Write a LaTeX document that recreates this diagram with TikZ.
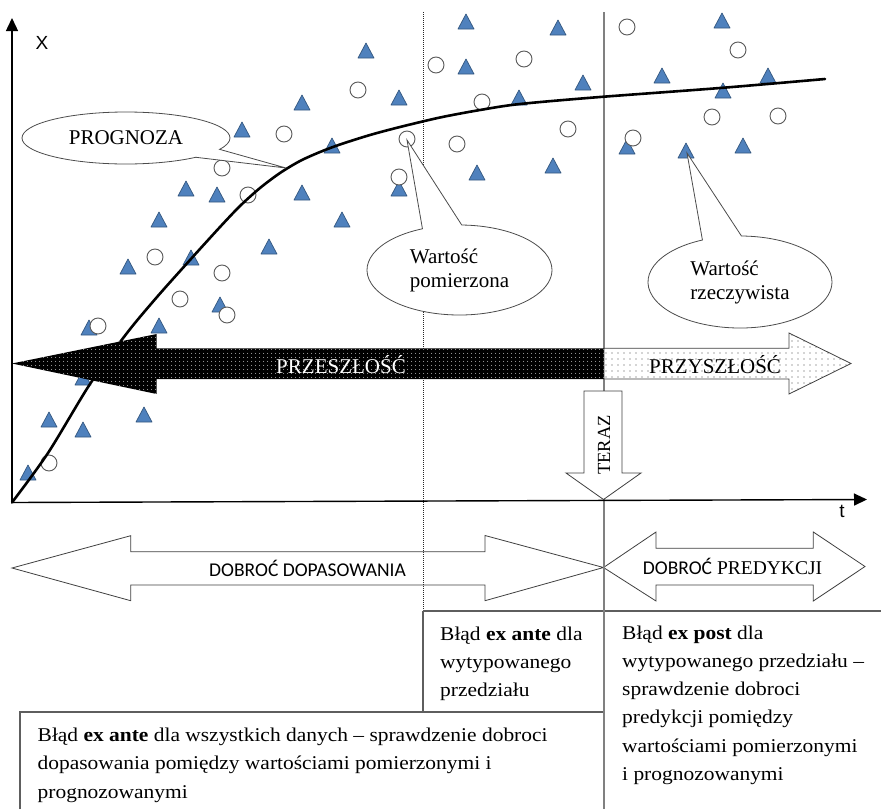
\documentclass[tikz,border=0pt]{standalone}
\usepackage{fontspec}
\setmainfont{Liberation Serif}
\newfontfamily\boxfont{Liberation Serif}[FakeStretch=1.1]
\newfontfamily\arialf{Liberation Sans}
\newfontfamily\calibf{Carlito}
\usetikzlibrary{arrows.meta,shapes.callouts,patterns.meta,decorations.pathmorphing}
\definecolor{triblue}{HTML}{4F81BD}
\definecolor{triedge}{HTML}{34577F}
\definecolor{linegray}{HTML}{5E5E5E}
\newlength\antestart
\newlength\antewidth

\begin{document}
\begin{tikzpicture}[x=1pt,y=-1pt,
  tri/.style={fill=triblue,draw=triedge,line width=0.7pt,line join=round},
  circ/.style={fill=white,draw=black!65,line width=0.9pt},
  frame/.style={draw=linegray,line width=1.2pt},
  nowline/.style={draw=black!50,line width=1.2pt},
  dotline/.style={draw=black!85,line width=1pt,dash pattern=on 1pt off 1pt},
  bigarrow/.style={draw=black!75,line width=0.8pt,line join=miter},
  axis/.style={line width=1.4pt,-{Triangle[length=13pt,width=12pt]}},
  bubble/.style={ellipse callout,draw=black!70,fill=white,line width=0.8pt,inner sep=0pt,
                 font=\fontsize{21}{24}\selectfont},
  boxtext/.style={anchor=base west,inner sep=0pt,font=\boxfont\fontsize{19.5}{28.3}\selectfont},
  spellwave/.style={draw=red,line width=0.5pt,decorate,
                    decoration={zigzag,amplitude=0.9pt,segment length=2.6pt}}
]
\useasboundingbox (0,0) rectangle (881,809);

% ---- lower double arrows
\draw[bigarrow,fill=white] (12,568) -- (130.7,535.7) -- (130.7,551.7) -- (485,551.7) -- (485,535.5)
  -- (603.5,567.5) -- (485,600.7) -- (485,585) -- (130.7,585) -- (130.7,600.7) -- cycle;
\draw[bigarrow,fill=white] (603.5,567.5) -- (656,532) -- (656,548.3) -- (813.3,548.3) -- (813.3,532)
  -- (865,566.5) -- (813.3,601) -- (813.3,585) -- (656,585) -- (656,601) -- cycle;

% ---- vertical separators and boxes
\draw[dotline] (423,12) -- (423,611);
\draw[frame] (423,611) -- (423,712);
\draw[frame] (423,611) -- (881,611);
\draw[frame] (20,809) -- (20,712) -- (605,712);
\draw[nowline] (604,12) -- (604,809);

% ---- measured values (triangles)
\foreach \x/\y in {366/51,302/103,399/98,242/130,332/146,186/189,217/195,302/193,399/189,
  159/220,342/220,269/247,128/267,191/258,220/305,89/328,159/326,83/378,49/420,83/430,
  144/415,28/473,466/22,558/28,466/67,583/83,519/98,477/173,553/166,722/21,662/76,
  768/76,723/91,627/147,686/151,743/146}
  \draw[tri] ({\x-8},{\y+7}) -- (\x,{\y-8}) -- ({\x+8},{\y+7}) -- cycle;
% ---- circles
\foreach \x/\y in {436/65,358/90,284/134,407/139,222/168,399/177,248/195,155/257,222/273,
  180/299,227/315,98/326,49/463,524/59,482/102,568/129,457/144,627/27,738/50,712/117,
  778/116,633/138}
  \draw[circ] (\x,\y) circle[radius=8];

% ---- forecast curve
\coordinate (O) at (12,502.5);
\draw[line width=2.6pt,line cap=round,line join=round] plot[smooth,tension=0.5] coordinates {
  (O) (48,453) (90,384) (127,333) (157,297) (190,260) (220,227) (240,206) (260,188)
  (280,173) (300,161) (320,152) (340,144.5) (370,135) (400,127) (440,117.5) (480,110)
  (520,104) (600,97) (720,88) (825,79)};

% ---- past / future arrows
\path[fill=black,postaction={pattern={Dots[distance=4pt,radius=0.5pt]},pattern color=white}]
  (604,348.3) -- (156.7,348.3) -- (156.7,334) -- (12,363.5) -- (156.7,394) -- (156.7,379)
  -- (604,379) -- cycle;
\draw[bigarrow,fill=white,postaction={pattern={Dots[distance=6pt,radius=0.55pt]},pattern color=black!70}]
  (604,348.3) -- (789,348.3) -- (789,333) -- (851,363.5) -- (789,394) -- (789,379)
  -- (604,379) -- cycle;
\node[text=white,font=\fontsize{21}{24}\selectfont] (past) at (341,365) {PRZESZŁOŚĆ};
\node[font=\fontsize{21}{24}\selectfont] (future) at (715,365) {PRZYSZŁOŚĆ};

% ---- axes
\coordinate (Ytop) at (12,18);
\coordinate (Xend) at (867,499.5);
\draw[axis] (O) -- (Ytop);
\draw[axis] (O) -- (Xend);
\node[font=\arialf\fontsize{19}{20}\selectfont] (xlab) at (42,43) {X};
\node[font=\arialf\fontsize{19}{20}\selectfont] (tlab) at (842,511) {t};

% ---- callouts
\node[bubble,minimum width=208pt,minimum height=52pt,callout absolute pointer={(286,168)},
  callout pointer arc=22] (prog) at (126,138) {PROGNOZA};
\node[bubble,align=left,minimum width=185pt,minimum height=90pt,callout absolute pointer={(407,140)},
  callout pointer arc=25] (meas) at (459.5,270) {Wartość\\pomierzona};
\node[bubble,align=left,minimum width=184pt,minimum height=92pt,callout absolute pointer={(687,153)},
  callout pointer arc=25] (real) at (740,282) {Wartość\\rzeczywista};

% ---- now arrow
\draw[bigarrow,fill=white] (584,391) -- (622,391) -- (622,473) -- (641,473) -- (603.5,499.5)
  -- (566,473) -- (584,473) -- cycle;
\node[rotate=90,font=\fontsize{18.5}{20}\selectfont] (now) at (604,445) {TERAZ};

% ---- arrow labels
\node[font=\calibf\fontsize{19.5}{22}\selectfont] (fit) at (307.5,568) {DOBROĆ DOPASOWANIA};
\node[font=\fontsize{19.5}{22}\selectfont] (pred) at (732.5,566.5) {{\calibf DOBROĆ} PREDYKCJI};

% ---- box texts
\node[boxtext] (exante1) at (440,640) {\vtop{\hbox{Błąd \textbf{ex} \textbf{ante} dla}\hbox{wytypowanego}\hbox{przedziału}}};
\node[boxtext] (expost) at (622,639) {\vtop{\hbox{Błąd \textbf{ex post} dla}\hbox{wytypowanego przedziału –}\hbox{sprawdzenie dobroci}\hbox{predykcji pomiędzy}\hbox{wartościami pomierzonymi}\hbox{i prognozowanymi}}};
\node[boxtext] (exante2) at (37.5,741.5) {\vtop{\hbox{Błąd \textbf{ex} \textbf{ante} dla wszystkich danych – sprawdzenie dobroci}\hbox{dopasowania pomiędzy wartościami pomierzonymi i}\hbox{prognozowanymi}}};

% ---- spell-check underlines under "ante"
\settowidth\antestart{\boxfont\fontsize{19.5}{28.3}\selectfont Błąd \textbf{ex} }
\settowidth\antewidth{\boxfont\fontsize{19.5}{28.3}\selectfont\textbf{ante}}
\draw[spellwave] ([xshift=\antestart,yshift=-3.5pt]exante1.base west)
  -- ([xshift=\antestart+\antewidth,yshift=-3.5pt]exante1.base west);
\draw[spellwave] ([xshift=\antestart,yshift=-3.5pt]exante2.base west)
  -- ([xshift=\antestart+\antewidth,yshift=-3.5pt]exante2.base west);
\end{tikzpicture}
\end{document}
